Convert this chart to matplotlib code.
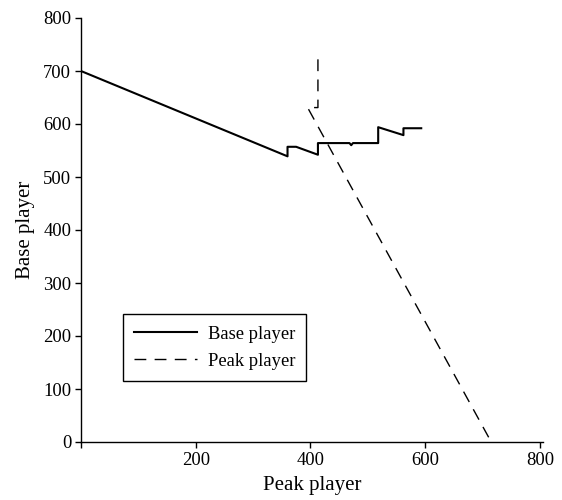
import matplotlib
matplotlib.use("Agg")
import matplotlib.pyplot as plt

plt.rcParams['font.family'] = ['Liberation Serif', 'DejaVu Serif']

# Base player reaction curve (x = peak player, y = base player)
base_x = [0, 360, 360, 375, 413, 413, 468, 471, 474, 518, 518, 562, 562, 593]
base_y = [700, 539, 557, 557, 542, 564, 564, 560, 564, 564, 594, 579, 592, 592]

# Peak player reaction curve
peak_x = [413, 413, 395, 715]
peak_y = [722, 631, 631, 0]

x_ticks = [0, 200, 400, 600, 800]
x_tick_labels = ['', '200', '400', '600', '800']
y_ticks = [0, 100, 200, 300, 400, 500, 600, 700, 800]

fig = plt.figure(figsize=(5.62, 5.0), dpi=100)
ax = fig.add_axes([0.144, 0.116, 0.822, 0.848])

ax.plot(base_x, base_y, color='black', linewidth=1.5, label='Base player')
ax.plot(peak_x, peak_y, color='black', linewidth=1.0, dashes=(8.5, 6), label='Peak player')

ax.set_xlim(0, 805)
ax.set_ylim(0, 800)
ax.set_xticks(x_ticks)
ax.set_xticklabels(x_tick_labels)
ax.set_yticks(y_ticks)
ax.tick_params(direction='out', length=4, width=1, labelsize=13.4, colors='black', pad=3)
for side in ['top', 'right']:
    ax.spines[side].set_visible(False)
for side in ['left', 'bottom']:
    ax.spines[side].set_linewidth(1)

ax.set_xlabel('Peak player', fontsize=15, labelpad=5)
ax.set_ylabel('Base player', fontsize=15, labelpad=6)

leg = ax.legend(loc='lower left', bbox_to_anchor=(0.091, 0.144), fontsize=13.4,
                handlelength=3.4, handletextpad=0.55, fancybox=False, framealpha=1,
                edgecolor='black', borderpad=0.6, labelspacing=0.55, borderaxespad=0)
leg.get_frame().set_linewidth(1)

fig.savefig('out.png', dpi=100)
